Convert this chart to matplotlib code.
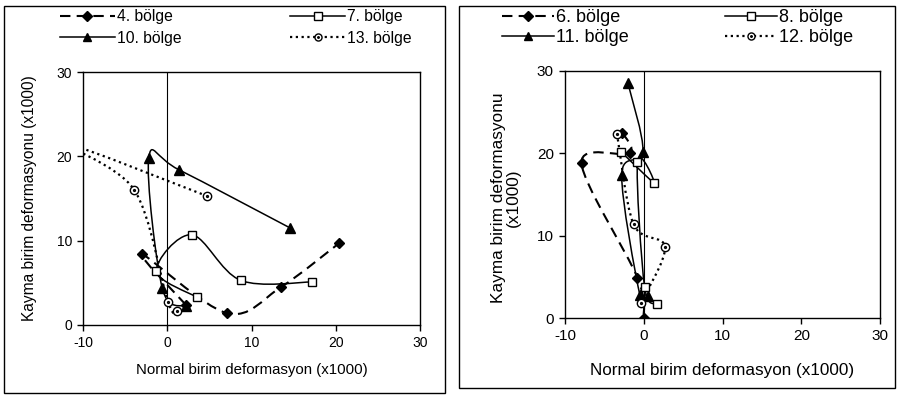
import numpy as np
import matplotlib
matplotlib.use('Agg')
import matplotlib.pyplot as plt
from matplotlib.path import Path
from matplotlib.patches import PathPatch, Rectangle
from matplotlib.lines import Line2D

plt.rcParams['font.family'] = ['Liberation Sans', 'DejaVu Sans']
plt.rcParams['axes.unicode_minus'] = False

# Sol grafik: 4, 7, 10, 13. bölge (normal, kayma) x1000
b4_x = [2.2, -3.0, 7.1, 13.5, 20.4]
b4_y = [2.4, 8.4, 1.4, 4.5, 9.7]
b7_x = [3.5, -1.3, 2.9, 8.7, 17.2]
b7_y = [3.3, 6.4, 10.7, 5.3, 5.1]
b10_x = [2.2, -0.6, -2.2, 1.4, 14.6]
b10_y = [2.2, 4.4, 19.8, 18.4, 11.5]
b13_x = [1.2, 0.1, -3.9, -12.0, 4.7]
b13_y = [1.7, 2.7, 16.0, 21.5, 15.3]

# Sağ grafik: 6, 8, 11, 12. bölge
b6_x = [-2.7, -1.8, -7.9, -0.8, 0.0]
b6_y = [22.5, 20.0, 18.8, 4.9, 0.0]
b8_x = [1.7, 0.1, -0.8, 1.3, -2.9]
b8_y = [1.7, 3.8, 19.0, 16.4, 20.2]
b11_x = [-2.0, -0.1, -2.8, -0.5, 0.5]
b11_y = [28.5, 20.2, 17.4, 2.8, 2.7]
b12_x = [-3.4, -1.3, 2.7, -0.4]
b12_y = [22.4, 11.4, 8.6, 1.8]

x_ticks = [-10, 0, 10, 20, 30]
y_ticks = [0, 10, 20, 30]
x_label = 'Normal birim deformasyon (x1000)'
y_label = 'Kayma birim deformasyonu (x1000)'

# halka + nokta işareti
ring_dot = Path.make_compound_path(Path.unit_circle(), Path.circle((0, 0), 0.22))

DASH = (0, (5, 3))
DOT = (0, (1, 1.6))
styles = {
    'dash_diamond': dict(ls=DASH, lw=1.5, marker='D', ms=5.5, mfc='black'),
    'solid_square': dict(ls='-', lw=1.1, marker='s', ms=6, mfc='white'),
    'solid_tri': dict(ls='-', lw=1.1, marker='^', ms=6.5, mfc='black'),
    'dot_circle': dict(ls=DOT, lw=1.6, marker=ring_dot, ms=6, mfc='white'),
}


def smooth_path(xs, ys):
    # Excel tarzı yumuşatılmış çizgi (kübik Bezier)
    p = np.column_stack([xs, ys]).astype(float)
    n = len(p)
    verts = [p[0]]
    codes = [Path.MOVETO]
    for i in range(n - 1):
        p0 = p[i - 1] if i > 0 else p[i]
        p3 = p[i + 2] if i + 2 < n else p[i + 1]
        verts += [p[i] + (p[i + 1] - p0) / 6, p[i + 1] - (p3 - p[i]) / 6, p[i + 1]]
        codes += [Path.CURVE4] * 3
    return Path(verts, codes)


def draw_series(ax, xs, ys, st):
    s = styles[st]
    ax.add_patch(PathPatch(smooth_path(xs, ys), fill=False, ec='black',
                           lw=s['lw'], ls=s['ls'], zorder=2))
    ax.plot(xs, ys, ls='none', marker=s['marker'], ms=s['ms'], mfc=s['mfc'],
            mec='black', mew=1.0, zorder=3)


def handle(st, ms_scale=0.85):
    s = styles[st]
    return Line2D([], [], color='black', lw=s['lw'], ls=s['ls'], marker=s['marker'],
                  ms=s['ms'] * ms_scale, mfc=s['mfc'], mec='black', mew=1.0)


def setup_axes(ax, fs):
    ax.set_xlim(-10, 30)
    ax.set_ylim(0, 30)
    ax.set_xticks(x_ticks)
    ax.set_yticks(y_ticks)
    ax.tick_params(direction='out', length=4, width=1, labelsize=fs, pad=4)
    ax.axvline(0, color='black', lw=0.8, zorder=1)
    for sp in ax.spines.values():
        sp.set_linewidth(1.0)


fig = plt.figure(figsize=(8.97, 3.99), dpi=100)
W, H = 897, 399

# panel çerçeveleri
fig.patches.append(Rectangle((4 / W, 6 / H), 441 / W, 387 / H, transform=fig.transFigure,
                             fill=False, ec='black', lw=1.0))
fig.patches.append(Rectangle((459 / W, 11 / H), 436 / W, 382 / H, transform=fig.transFigure,
                             fill=False, ec='black', lw=1.0))

# --- sol grafik ---
ax1 = fig.add_axes([83 / W, 1 - 325 / H, 337 / W, 253 / H])
setup_axes(ax1, 10)
draw_series(ax1, b4_x, b4_y, 'dash_diamond')
draw_series(ax1, b7_x, b7_y, 'solid_square')
draw_series(ax1, b10_x, b10_y, 'solid_tri')
draw_series(ax1, b13_x, b13_y, 'dot_circle')
ax1.set_xlabel(x_label, fontsize=10.8)
ax1.set_ylabel(y_label, fontsize=11.2)
ax1.xaxis.set_label_coords(0.5, -0.15)
ax1.yaxis.set_label_coords(-0.137, 0.5)

fig.legend([handle('dash_diamond'), handle('solid_tri'), handle('solid_square'), handle('dot_circle')],
           ['4. bölge', '10. bölge', '7. bölge', '13. bölge'],
           ncol=2, loc='upper left', bbox_to_anchor=(60 / W, 1 - 9 / H), frameon=False,
           fontsize=11.3, handlelength=3.5, handletextpad=0.15, columnspacing=6.9,
           labelspacing=0.44, borderpad=0, borderaxespad=0)

# --- sağ grafik ---
ax2 = fig.add_axes([565 / W, 1 - 318 / H, 315 / W, 247 / H])
setup_axes(ax2, 11)
draw_series(ax2, b6_x, b6_y, 'dash_diamond')
draw_series(ax2, b8_x, b8_y, 'solid_square')
draw_series(ax2, b11_x, b11_y, 'solid_tri')
draw_series(ax2, b12_x, b12_y, 'dot_circle')
ax2.set_xlabel(x_label, fontsize=12.3)
ax2.set_ylabel('Kayma birim deformasyonu\n(x1000)', fontsize=12.4, linespacing=1.0)
ax2.xaxis.set_label_coords(0.5, -0.182)
ax2.yaxis.set_label_coords(-0.14, 0.486)

fig.legend([handle('dash_diamond'), handle('solid_tri'), handle('solid_square'), handle('dot_circle')],
           ['6. bölge', '11. bölge', '8. bölge', '12. bölge'],
           ncol=2, loc='upper left', bbox_to_anchor=(502 / W, 1 - 9 / H), frameon=False,
           fontsize=13, handlelength=2.9, handletextpad=0.1, columnspacing=5.3,
           labelspacing=0.17, borderpad=0, borderaxespad=0)

fig.savefig('out.png', dpi=100)
